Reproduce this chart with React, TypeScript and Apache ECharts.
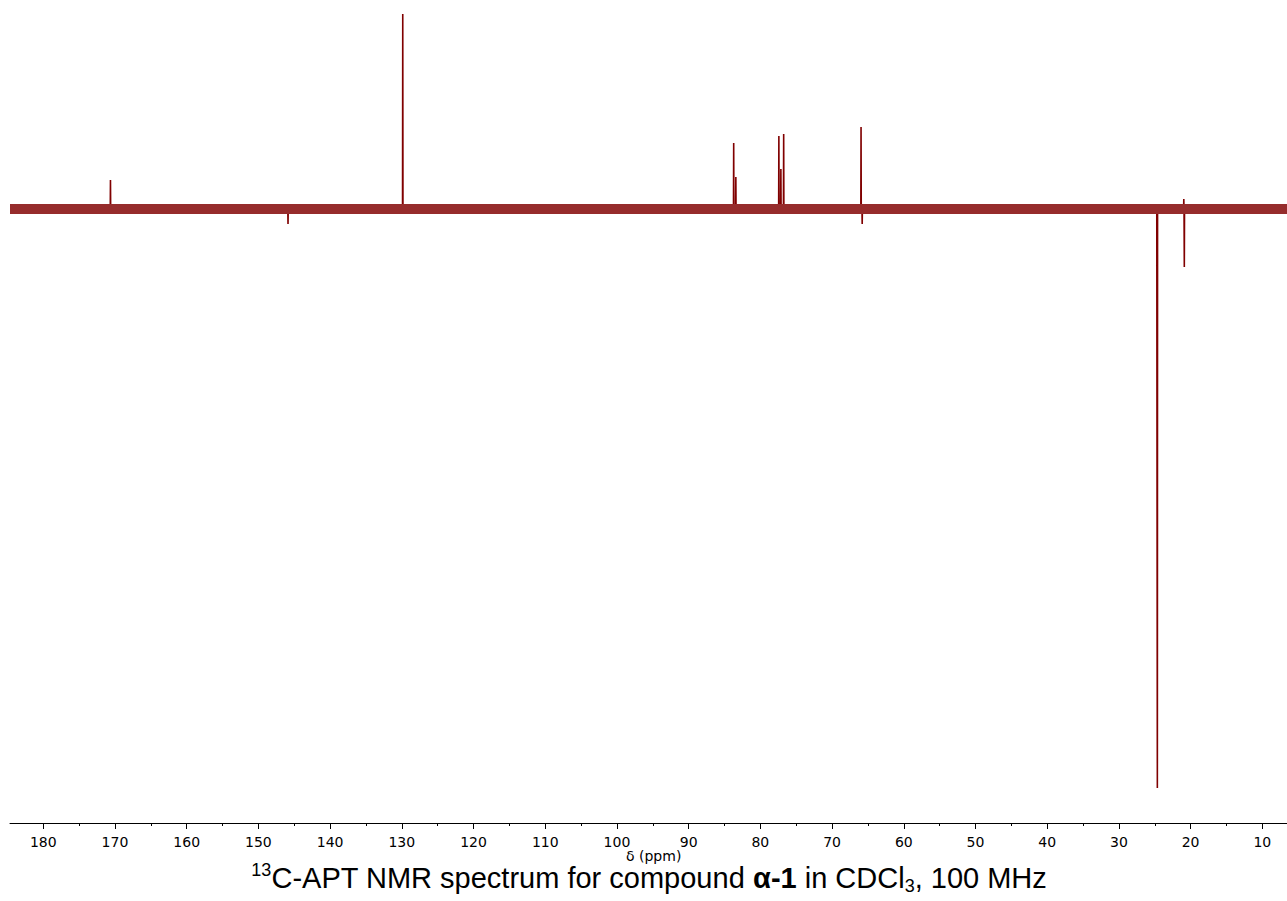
import React, { useEffect, useRef } from "react";
import * as echarts from "echarts";

// Chemical shift range shown (ppm), left edge to right edge (axis is reversed)
const ppmMax = 184.64;
const ppmMin = 6.56;

// Tick labels (ppm)
const majorTicks = [180, 170, 160, 150, 140, 130, 120, 110, 100, 90, 80, 70, 60, 50, 40, 30, 20, 10];
const minorTicks = [175, 165, 155, 145, 135, 125, 115, 105, 95, 85, 75, 65, 55, 45, 35, 25, 15];

// Peaks: position (ppm) and APT intensity (arbitrary units, + up / - down)
const peakPpm = [170.63, 145.87, 129.87, 83.72, 83.42, 77.42, 77.14, 76.75, 65.96, 65.8, 24.75, 24.64, 20.95, 20.88];
const peakIntensity = [29, -15, 195, 66, 32, 73, 40, 75, 82, -15, 5, -579, 10, -58];

// Baseline noise band (envelope at zero intensity across the whole window)
const noiseBaseline = [
  [ppmMax, 0],
  [ppmMin, 0],
];

// Intensity scale limits
const intensityMin = -614;
const intensityMax = 209;

const title =
  "{sup|13}{n|C-APT NMR spectrum for compound }{b|α-1}{n| in CDCl}{sub|3}{n|, 100 MHz}";

export default function App() {
  const ref = useRef<HTMLDivElement>(null);

  useEffect(() => {
    if (!ref.current) return;
    const chart = echarts.init(ref.current, null, { renderer: "svg" });

    const hw = 0.03;
    const pts: number[][] = [[ppmMax, 0], [ppmMin, 0]];
    peakPpm.forEach((p, i) => {
      pts.push([p + hw, 0], [p, peakIntensity[i]], [p - hw, 0]);
    });
    pts.sort((a, b) => b[0] - a[0]);

    const red = "#800000";
    const bandRed = "#962c2c";

    const axisCommon = {
      type: "value" as const,
      inverse: true,
      min: ppmMin,
      max: ppmMax,
      position: "bottom" as const,
      splitLine: { show: false },
    };

    chart.setOption({
      animation: false,
      backgroundColor: "#ffffff",
      grid: { left: 10, right: 0, top: 0, bottom: 78, containLabel: false },
      xAxis: [
        {
          ...axisCommon,
          axisLine: { show: true, onZero: false, lineStyle: { color: "#000", width: 1 } },
          axisTick: {
            show: true,
            customValues: majorTicks,
            length: 6,
            lineStyle: { color: "#000", width: 1 },
          },
          axisLabel: {
            show: true,
            customValues: majorTicks,
            margin: 12,
            fontSize: 14,
            fontFamily: "DejaVu Sans",
            color: "#000",
          },
        },
        {
          ...axisCommon,
          axisLine: { show: false, onZero: false },
          axisTick: {
            show: true,
            customValues: minorTicks,
            length: 3,
            lineStyle: { color: "#000", width: 1 },
          },
          axisLabel: { show: false },
        },
      ],
      yAxis: {
        type: "value",
        show: false,
        min: intensityMin,
        max: intensityMax,
        splitLine: { show: false },
      },
      series: [
        {
          type: "line",
          xAxisIndex: 0,
          data: pts,
          showSymbol: false,
          silent: true,
          lineStyle: { color: red, width: 1.6 },
          z: 2,
        },
        {
          type: "line",
          xAxisIndex: 0,
          data: noiseBaseline,
          showSymbol: false,
          silent: true,
          lineStyle: { color: bandRed, width: 10 },
          z: 3,
        },
      ],
      graphic: [
        {
          type: "text",
          left: 626,
          top: 849,
          style: {
            text: "δ (ppm)",
            fontSize: 14,
            fontFamily: "DejaVu Sans",
            fill: "#000",
          },
        },
        {
          type: "text",
          x: 649,
          y: 878,
          style: {
            text: title,
            align: "center",
            verticalAlign: "middle",
            fill: "#000",
            rich: {
              n: { fontSize: 29, fontFamily: "Liberation Sans", fill: "#000", lineHeight: 34, verticalAlign: "middle" },
              b: { fontSize: 29, fontFamily: "Liberation Sans", fontWeight: "bold", fill: "#000", lineHeight: 34, verticalAlign: "middle" },
              sup: { fontSize: 18, fontFamily: "Liberation Sans", fill: "#000", lineHeight: 34, verticalAlign: "top" },
              sub: { fontSize: 18, fontFamily: "Liberation Sans", fill: "#000", lineHeight: 34, verticalAlign: "bottom" },
            },
          },
        },
      ],
    });

    return () => chart.dispose();
  }, []);

  return (
    <div
      ref={ref}
      style={{ position: "absolute", left: 0, top: 0, width: 1287, height: 901 }}
    />
  );
}
